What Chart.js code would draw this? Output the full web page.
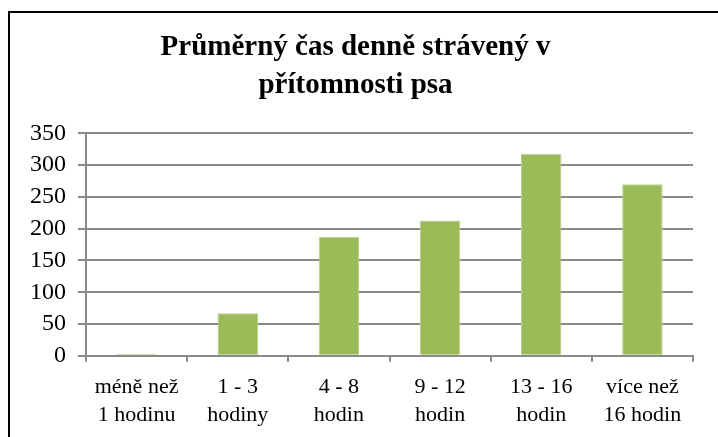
<!DOCTYPE html>
<html>
<head>
<meta charset="utf-8">
<script src="https://cdn.jsdelivr.net/npm/chart.js@4"></script>
<style>
  html, body { margin: 0; padding: 0; background: #fff; }
  #wrap { position: relative; width: 718px; height: 437px; overflow: hidden; }
  #frame {
    position: absolute; left: 8px; top: 11px; width: 760px; height: 480px;
    border-top: 2px solid #000; border-left: 2px solid #000;
  }
  canvas { position: absolute; left: 0; top: 0; }
</style>
</head>
<body>
<div id="wrap">
  <div id="frame"></div>
  <!-- slightly taller than the window; the bottom few px are clipped like the original -->
  <canvas id="chart" width="718" height="441"></canvas>
</div>
<script>
// chart data
const categories = [
    ['méně než', '1 hodinu'],
    ['1 - 3', 'hodiny'],
    ['4 - 8', 'hodin'],
    ['9 - 12', 'hodin'],
    ['13 - 16', 'hodin'],
    ['více než', '16 hodin']
];
const values = [3, 67, 187, 213, 318, 270];
const chartTitle = ['Průměrný čas denně strávený v', 'přítomnosti psa'];

const gridGrey = '#8a8a8a';
const serif = "'Liberation Serif', 'Times New Roman', serif";

const ctx = document.getElementById('chart').getContext('2d');
new Chart(ctx, {
    type: 'bar',
    data: {
        labels: categories,
        datasets: [{
            data: values,
            backgroundColor: '#9bbb59',
            borderColor: '#b9d38a',
            borderWidth: 1,
            barPercentage: 0.4,
            categoryPercentage: 1
        }]
    },
    options: {
        responsive: false,
        animation: false,
        layout: { padding: { left: 18, right: 25, top: 29, bottom: 0 } },
        plugins: {
            legend: { display: false },
            tooltip: { enabled: false },
            title: {
                display: true,
                text: chartTitle,
                color: '#000',
                font: { family: serif, size: 29, weight: 'bold', lineHeight: 1.3 },
                padding: { top: 0, bottom: 29 }
            }
        },
        scales: {
            x: {
                grid: {
                    offset: true,
                    drawOnChartArea: false,
                    drawTicks: true,
                    tickLength: 6,
                    color: gridGrey,
                    lineWidth: 2
                },
                border: { color: gridGrey, width: 2 },
                ticks: {
                    color: '#000',
                    font: { family: serif, size: 22, lineHeight: 1.3 },
                    padding: 11,
                    maxRotation: 0
                }
            },
            y: {
                min: 0,
                max: 350,
                ticks: {
                    stepSize: 50,
                    autoSkip: false,
                    color: '#000',
                    font: { family: serif, size: 24 },
                    padding: 12
                },
                grid: {
                    color: gridGrey,
                    lineWidth: 2,
                    tickLength: 8
                },
                border: { color: gridGrey, width: 2 }
            }
        }
    }
});
</script>
</body>
</html>
